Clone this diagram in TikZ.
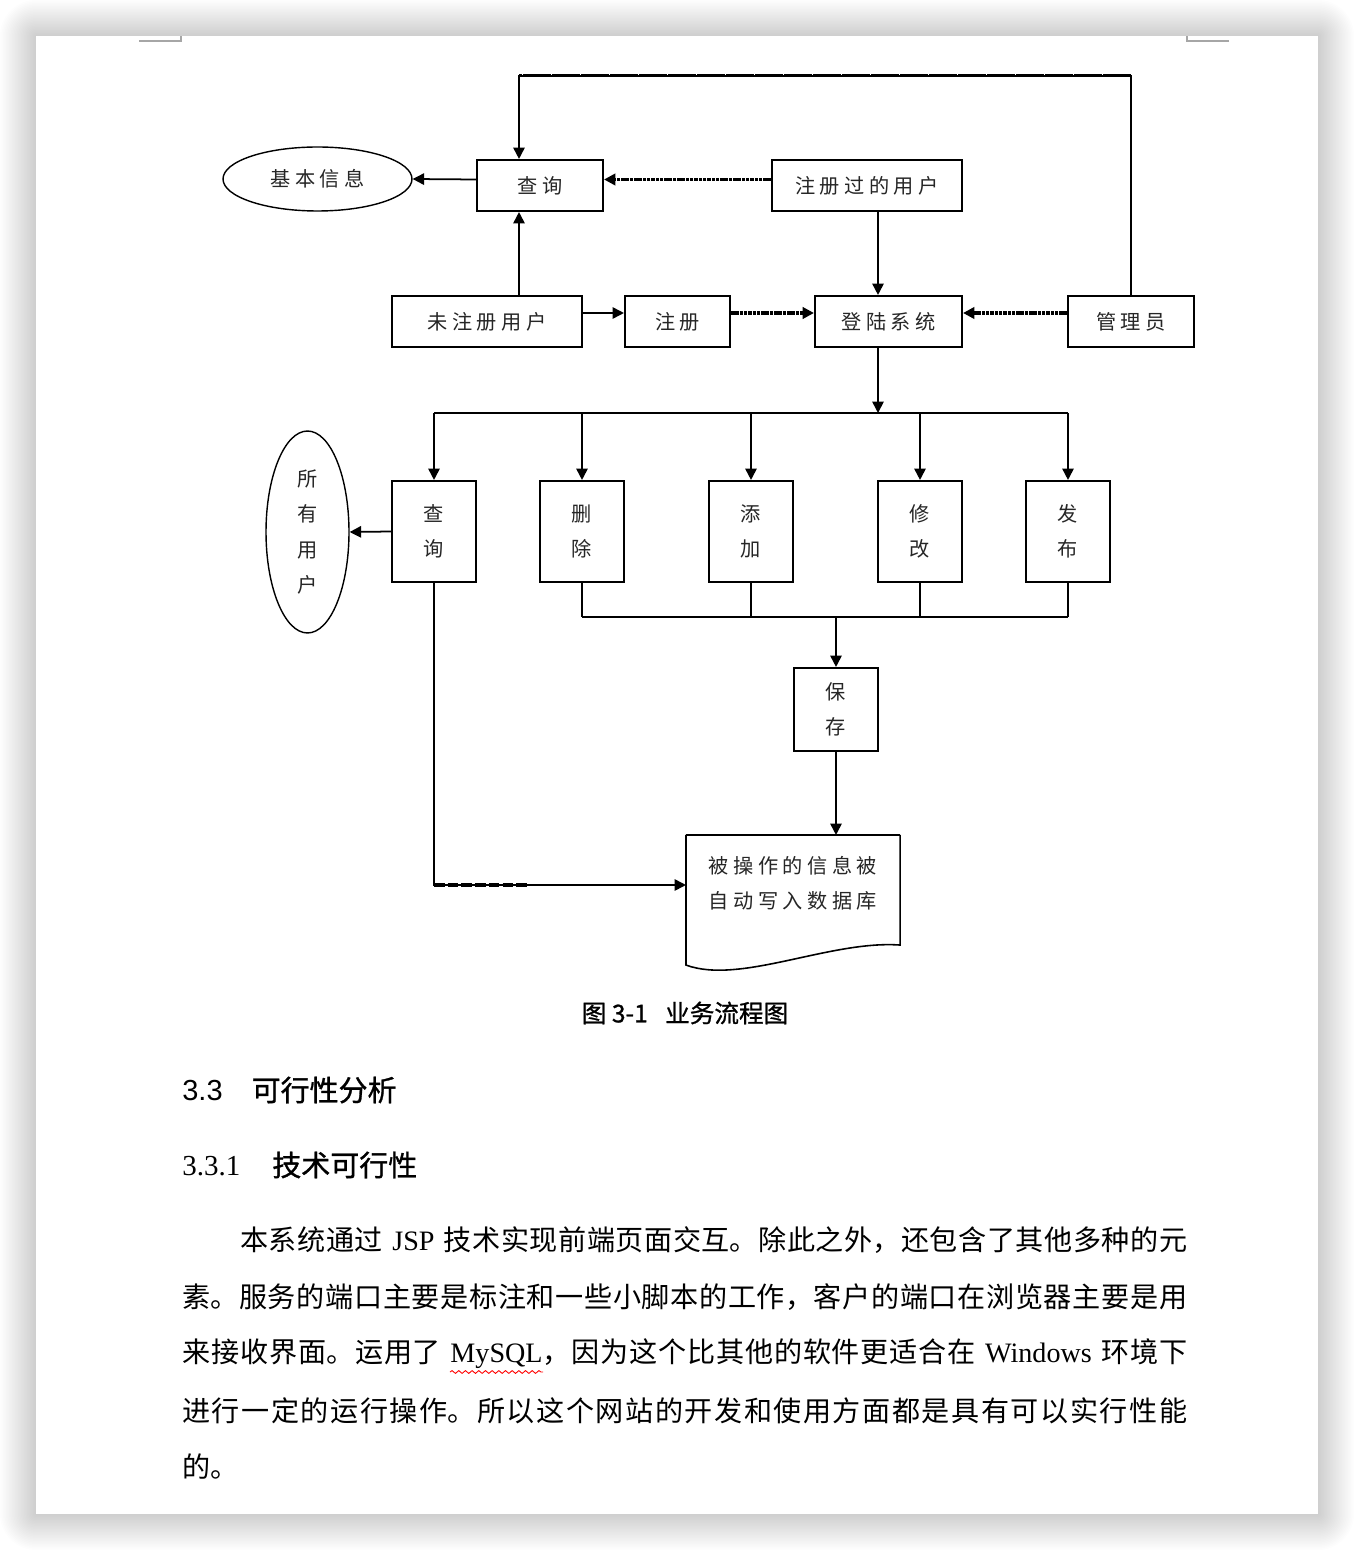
\documentclass[tikz,border=0pt]{standalone}
\usepackage{fontspec}
\setmainfont{Noto Sans CJK SC}
\newfontfamily\dgfont[LetterSpace=22]{Noto Sans CJK SC}
\newfontfamily\heifont[FakeBold=1]{Noto Sans CJK SC}
\newfontfamily\timesfont{Liberation Serif}
\newfontfamily\arialfont{Liberation Sans}
\usetikzlibrary{arrows.meta,positioning,calc,shapes.geometric,decorations.pathmorphing}
\XeTeXlinebreaklocale "zh"
\XeTeXlinebreakskip=0pt plus 1.5pt
\newcommand{\fullline}[1]{{\parindent=0pt\leftskip=0pt\rightskip=0pt\parfillskip=0pt\relax #1\par}}
\tikzset{
  box/.style={draw, line width=1.2pt, inner sep=0pt, text=black!85,
    font=\dgfont\fontsize{11.5pt}{20pt}\selectfont},
  hbox/.style={box, minimum height=1.02cm},
  vbox/.style={box, minimum width=1.68cm, minimum height=2.02cm, align=center},
  oval/.style={box, ellipse, line width=0.8pt},
  line/.style={line width=1pt},
  link/.style={line, ->},
  dotlink/.style={->, line width=1.8pt, dash pattern=on 2pt off 0.45pt},
  notchline/.style={line width=1.7pt, dash pattern=on 16pt off 0.5pt},
  dashlink/.style={line width=1.8pt, dash pattern=on 6pt off 1.8pt},
  bus/.style={line width=1.3pt},
  bodytext/.style={anchor=west, inner sep=0pt, font=\fontsize{16pt}{20pt}\selectfont},
  heading/.style={anchor=west, inner sep=0pt, font=\heifont\fontsize{16.5pt}{20pt}\selectfont},
}
\begin{document}
\begin{tikzpicture}[x=0.02cm, y=-0.02cm, >={Triangle[length=6.5pt,width=6.5pt]}]
\useasboundingbox (0,0) rectangle (1354,1550);
% page and its shadow
\foreach \i [evaluate=\i as \r using \i*0.03] in {1,...,24}
  \fill[black, opacity=0.009, rounded corners=\r cm] (36-1.5*\i,36-1.5*\i) rectangle (1318+1.5*\i,1514+1.5*\i);
\fill[white] (36,36) rectangle (1318,1514);
\draw[gray!70, line width=0.9pt] (139,41) -- (181,41) -- (181,36);
\draw[gray!70, line width=0.9pt] (1229,41) -- (1187,41) -- (1187,36);

% top rows
\node[oval, minimum width=3.78cm, minimum height=1.28cm] (info) at (317.5,179) {基本信息};
\node[hbox, minimum width=2.52cm] (find) at (540,185.5) {查询};
\node[hbox, minimum width=3.8cm] (olduser) at (867,185.5) {注册过的用户};
\node[hbox, minimum width=3.8cm] (newuser) at (487,321.5) {未注册用户};
\node[hbox, minimum width=2.1cm] (signup) at (677.5,321.5) {注册};
\node[hbox, minimum width=2.94cm] (login) at (888.5,321.5) {登陆系统};
\node[hbox, minimum width=2.52cm] (admin) at (1131,321.5) {管理员};

% operations
\node[vbox] (query) at (434,531.5) {查\\询};
\node[vbox] (delete) at (582,531.5) {删\\除};
\node[vbox] (add) at (751,531.5) {添\\加};
\node[vbox] (edit) at (920,531.5) {修\\改};
\node[vbox] (publish) at (1068,531.5) {发\\布};
\node[oval, minimum width=1.66cm, minimum height=4.04cm, align=center] (allusers) at (307.5,532) {所\\有\\用\\户};
\node[vbox, minimum height=1.66cm] (save) at (836,709.5) {保\\存};
\node[box, draw=none, align=center, minimum width=4.24cm, minimum height=1.88cm] (db) at (793,883) {被操作的信息被\\自动写入数据库};
\draw[line width=0.9pt] (db.north east) -- ([yshift=-0.28cm]db.south east)
  .. controls (830,940) and (740,985) .. ([yshift=-0.68cm]db.south west) -- (db.north west);
\draw[line width=1.4pt] (db.north west) -- (db.north east);

\coordinate (topturn) at (519,76);
\coordinate (busA) at (878,413);
\coordinate (busB) at (836,617);
\coordinate (dbin) at ([yshift=-0.04cm]db.west);
\coordinate (qturn) at (query.south |- dbin);

\draw[link] ([yshift=0.12cm]find.west) -- (info.east);
\draw[dotlink] ([yshift=0.12cm]olduser.west) -- ([yshift=0.12cm]find.east);
\draw[link] (admin.north) |- (topturn) -- (topturn |- find.north);
\draw[notchline] (admin.north |- topturn) -- (topturn);
\draw[link] (newuser.north -| topturn) -- (find.south -| topturn);
\draw[link] ([yshift=0.17cm]newuser.east) -- ([yshift=0.17cm]signup.west);
\draw[dotlink] ([yshift=0.17cm]signup.east) -- ([yshift=0.17cm]login.west);
\draw[dotlink] ([yshift=0.17cm]admin.west) -- ([yshift=0.17cm]login.east);
\draw[link] (olduser.south -| busA) -- (login.north -| busA);
\draw[link] (login.south -| busA) -- (busA);
\draw[bus] (query.north |- busA) -- (publish.north |- busA);
\foreach \op in {query,delete,add,edit,publish}
  \draw[link] (\op.north |- busA) -- (\op.north);
\foreach \op in {delete,add,edit,publish}
  \draw[line] (\op.south) -- (\op.south |- busB);
\draw[bus] (delete.south |- busB) -- (publish.south |- busB);
\draw[link] (busB) -- (save.north);
\draw[link] (save.south) -- (save.south |- db.north);
\draw[link] (query.west) -- (allusers.east);
\draw[link] (query.south) -- (qturn) -- (dbin);
\draw[dashlink] (qturn) -- ++(95,0);

% caption and text
\node[font=\heifont\fontsize{14pt}{16pt}\selectfont] (caption) at (685,1013) {图 3-1\hspace{0.35cm}业务流程图};
\node[heading] (sec) at (182,1090) {{\arialfont 3.3}\hspace{0.58cm}可行性分析};
\node[heading] (subsec) at (182,1165) {{\timesfont 3.3.1}\hspace{0.64cm}技术可行性};
\node[bodytext, text width=18.94cm] (p1) at (240,1240) {\fullline{本系统通过 {\timesfont JSP} 技术实现前端页面交互。除此之外，还包含了其他多种的元}};
\node[bodytext, text width=20.1cm] (p2) at (182,1297) {\fullline{素。服务的端口主要是标注和一些小脚本的工作，客户的端口在浏览器主要是用}};
\node[bodytext, text width=20.1cm] (p3) at (182,1354) {\fullline{来接收界面。运用了 {\timesfont MySQL}，因为这个比其他的软件更适合在 {\timesfont Windows} 环境下}};
\node[bodytext, text width=20.1cm] (p4) at (182,1411) {\fullline{进行一定的运行操作。所以这个网站的开发和使用方面都是具有可以实行性能}};
\node[bodytext] (p5) at (182,1467) {的。};
\draw[red, line width=0.5pt, decorate, decoration={snake, amplitude=0.8pt, segment length=3.8pt}] (450,1372) -- (543,1372);
\end{tikzpicture}
\end{document}
